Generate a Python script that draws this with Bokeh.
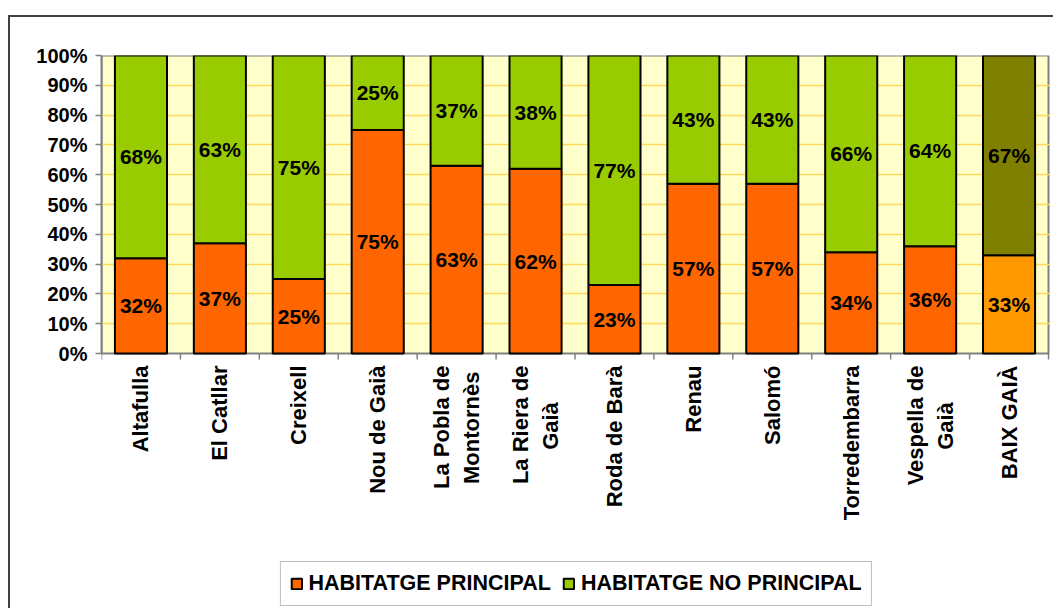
import math
from bokeh.plotting import figure
from bokeh.models import (ColumnDataSource, Range1d, FixedTicker, NumeralTickFormatter,
                          Legend, LegendItem, InlineStyleSheet)
from bokeh.core.properties import value
from bokeh.embed import file_html
from bokeh.resources import INLINE

categories = ["Altafulla", "El Catllar", "Creixell", "Nou de Gaià",
              "La Pobla de\nMontornès", "La Riera de\nGaià", "Roda de Barà",
              "Renau", "Salomó", "Torredembarra", "Vespella de\nGaià", "BAIX GAIÀ"]
principal = [32, 37, 25, 75, 63, 62, 23, 57, 57, 34, 36, 33]
no_principal = [68, 63, 75, 25, 37, 38, 77, 43, 43, 66, 64, 67]
series_names = ["HABITATGE PRINCIPAL", "HABITATGE NO PRINCIPAL"]

FONT = "Liberation Sans"
C_P, C_NP = "#FF6600", "#99CC00"
C_P_TOT, C_NP_TOT = "#FF9900", "#808000"
GRAY = "#808080"

# layout (pixels)
PLOT_W, PLOT_H = 947, 298      # plot area
BELOW = 255                    # room under the plot area for names + legend
PX = 1 / PLOT_H                # one pixel in y data units

n = len(categories)
xs = [i + 0.5 for i in range(n)]
p_frac = [v / 100 for v in principal]
np_frac = [v / 100 for v in no_principal]

src = ColumnDataSource(dict(
    x=xs,
    p_top=p_frac,
    np_top=[a + b for a, b in zip(p_frac, np_frac)],
    p_mid=[a / 2 for a in p_frac],
    np_mid=[a + b / 2 for a, b in zip(p_frac, np_frac)],
    p_lab=[f"{v}%" for v in principal],
    np_lab=[f"{v}%" for v in no_principal],
    p_col=[C_P] * (n - 1) + [C_P_TOT],
    np_col=[C_NP] * (n - 1) + [C_NP_TOT],
))

p = figure(frame_width=PLOT_W + 2, frame_height=PLOT_H + BELOW,
           output_backend="svg", toolbar_location=None,
           x_range=Range1d(0, n * (PLOT_W + 2) / PLOT_W),
           y_range=Range1d(-BELOW * PX, 1),
           min_border_left=101, min_border_right=3, min_border_top=55, min_border_bottom=0)
p.background_fill_color = "white"
p.border_fill_color = "white"
p.outline_line_color = None

# plot area background and border
p.quad(left=0, right=n, bottom=0, top=1, fill_color="#FFFFCC", line_color=GRAY,
       line_width=2, level="image")

# grid
p.xgrid.visible = False
p.ygrid.ticker = FixedTicker(ticks=[i / 10 for i in range(1, 10)])
p.ygrid.grid_line_color = "#FFD95A"
p.ygrid.grid_line_width = 1.5

r_p = p.vbar(x="x", bottom=0, top="p_top", width=0.66, fill_color="p_col",
             line_color="black", line_width=2, source=src)
r_np = p.vbar(x="x", bottom="p_top", top="np_top", width=0.66, fill_color="np_col",
              line_color="black", line_width=2, source=src)

for ycol, tcol in (("p_mid", "p_lab"), ("np_mid", "np_lab")):
    p.text(x="x", y=ycol, text=tcol, source=src, text_align="center",
           text_baseline="middle", text_font=value(FONT), text_font_style="bold",
           text_font_size="21px", text_color="black")

# y axis
ya = p.yaxis[0]
ya.bounds = (0, 1)
ya.ticker = FixedTicker(ticks=[i / 10 for i in range(11)])
ya.formatter = NumeralTickFormatter(format="0%")
ya.axis_line_color = GRAY
ya.axis_line_width = 2
ya.major_tick_line_color = GRAY
ya.major_tick_line_width = 1.5
ya.major_tick_out = 6
ya.major_tick_in = 0
ya.minor_tick_line_color = None
ya.major_label_standoff = 8
ya.major_label_text_font = FONT
ya.major_label_text_font_style = "bold"
ya.major_label_text_font_size = "20px"
ya.major_label_text_color = "black"

# category axis: boundary ticks and rotated names (drawn below the plot area)
p.xaxis.visible = False
bounds = list(range(n + 1))
p.segment(x0=bounds, y0=[0] * len(bounds), x1=bounds, y1=[-6 * PX] * len(bounds),
          line_color=GRAY, line_width=1.5)

LINE_GAP = 0.19  # half distance between the two rotated lines, in category units
def _w(s):
    # rough Liberation Sans Bold advance widths (em) for centring short second lines
    tbl = {"L": .611, "a": .556, "P": .667, "o": .611, "b": .611, "l": .278, "d": .611,
           "e": .556, "M": .833, "n": .611, "t": .333, "r": .389, "è": .556, "s": .556,
           "R": .722, "i": .278, "G": .778, "à": .556, "V": .667, "p": .611, " ": .278}
    return sum(tbl.get(c, .6) for c in s)

tick_pos, tick_txt = [], []
for x, name in zip(xs, categories):
    lines = name.split("\n")
    if len(lines) == 1:
        tick_pos.append(x)
        tick_txt.append(name)
    else:
        longest = max(_w(s) for s in lines)
        for k, s in enumerate(lines):
            pad = int(round((longest - _w(s)) / 2 / 0.278))
            tick_pos.append(x + (k - 0.5) * 2 * LINE_GAP)
            tick_txt.append(s + "\u00a0" * pad)

name_src = ColumnDataSource(dict(x=tick_pos, y=[-12 * PX] * len(tick_pos), t=tick_txt))
p.text(x="x", y="y", text="t", source=name_src, angle=math.pi / 2,
       text_align="right", text_baseline="middle", text_font=value(FONT),
       text_font_style="bold", text_font_size="22px", text_color="black")

legend = Legend(items=[LegendItem(label=series_names[0], renderers=[r_p], index=0),
                       LegendItem(label=series_names[1], renderers=[r_np], index=0)],
                orientation="horizontal", location="bottom_center")
legend.label_text_font = FONT
legend.label_text_font_style = "bold"
legend.label_text_font_size = "21.5px"
legend.label_text_color = "black"
legend.glyph_width = 13
legend.glyph_height = 13
legend.label_standoff = 6
legend.spacing = 11
legend.padding = 9
legend.margin = 2
legend.border_line_color = GRAY
legend.border_line_width = 1.5
legend.background_fill_color = "white"
p.add_layout(legend, "center")

p.stylesheets = [InlineStyleSheet(css=(
    ":host::after { content: ''; position: absolute; left: 8px; top: 15px; right: 0; bottom: 0;"
    " border-left: 2px solid #404040; border-top: 2px solid #404040; pointer-events: none; }"))]

open("out.html", "w").write(file_html(p, INLINE))
